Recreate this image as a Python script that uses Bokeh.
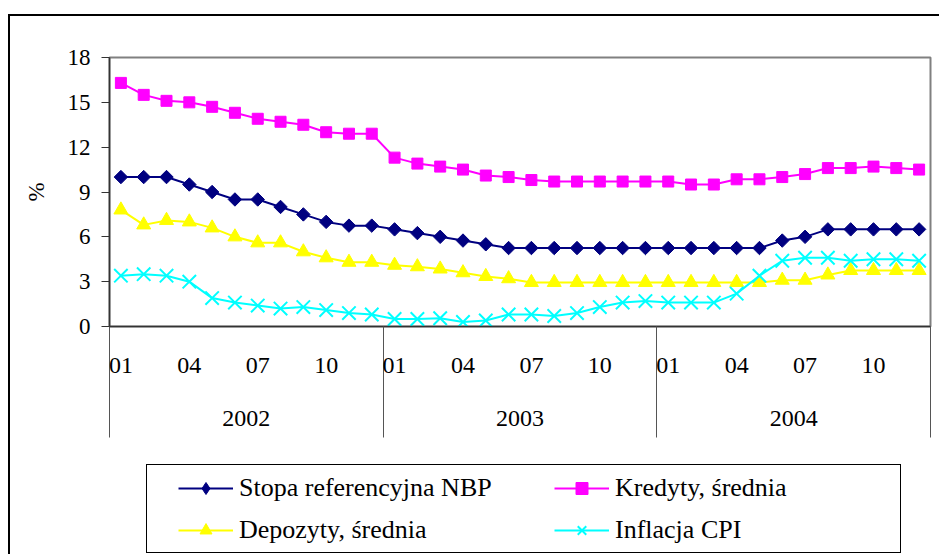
import numpy as np
from bokeh.plotting import figure
from bokeh.layouts import column
from bokeh.models import FixedTicker, LinearAxis, Range1d, Legend, LegendItem
from bokeh.embed import file_html
from bokeh.resources import INLINE

# ---- data ----
years = ["2002", "2003", "2004"]
months = ["01", "02", "03", "04", "05", "06", "07", "08", "09", "10", "11", "12"]
month_labels_shown = ["01", "04", "07", "10"]

stopa_nbp = [10.0, 10.0, 10.0, 9.5, 9.0, 8.5, 8.5, 8.0, 7.5, 7.0, 6.75, 6.75,
             6.5, 6.25, 6.0, 5.75, 5.5, 5.25, 5.25, 5.25, 5.25, 5.25, 5.25, 5.25,
             5.25, 5.25, 5.25, 5.25, 5.25, 5.75, 6.0, 6.5, 6.5, 6.5, 6.5, 6.5]
kredyty = [16.3, 15.5, 15.1, 15.0, 14.7, 14.3, 13.9, 13.7, 13.5, 13.0, 12.9, 12.9,
           11.3, 10.9, 10.7, 10.5, 10.1, 10.0, 9.8, 9.7, 9.7, 9.7, 9.7, 9.7,
           9.7, 9.5, 9.5, 9.85, 9.85, 10.0, 10.2, 10.6, 10.6, 10.7, 10.6, 10.5]
depozyty = [7.8, 6.8, 7.1, 7.0, 6.6, 6.0, 5.6, 5.6, 5.0, 4.6, 4.3, 4.3,
            4.1, 4.0, 3.85, 3.6, 3.35, 3.2, 2.95, 2.95, 2.95, 2.95, 2.95, 2.95,
            2.95, 2.95, 2.95, 2.95, 2.95, 3.1, 3.1, 3.45, 3.75, 3.75, 3.75, 3.75]
inflacja_cpi = [3.4, 3.5, 3.4, 3.0, 1.9, 1.6, 1.4, 1.2, 1.3, 1.1, 0.9, 0.8,
                0.5, 0.5, 0.55, 0.3, 0.4, 0.8, 0.8, 0.7, 0.9, 1.3, 1.6, 1.7,
                1.6, 1.6, 1.6, 2.2, 3.4, 4.4, 4.6, 4.6, 4.4, 4.5, 4.5, 4.4]
y_ticks = [0, 3, 6, 9, 12, 15, 18]

series_names = ["Stopa referencyjna NBP", "Kredyty, średnia",
                "Depozyty, średnia", "Inflacja CPI"]

# ---- positions derived from categories ----
n = len(years) * len(months)
xs = np.arange(n) + 0.5
month_tick_pos = [i + 0.5 for i in range(n) if months[i % 12] in month_labels_shown]
month_overrides = {p: months[int(p) % 12] for p in month_tick_pos}
year_pos = [12 * k + 6 for k in range(len(years))]
year_overrides = {p: years[k] for k, p in enumerate(year_pos)}
year_bounds = [12 * k for k in range(len(years) + 1)]

FONT = "Liberation Serif"

p = figure(width=939, height=464, output_backend="svg", toolbar_location=None,
           x_range=Range1d(0, n), y_range=Range1d(0, 18),
           x_axis_type=None, y_axis_type=None,
           min_border_left=109, min_border_right=9, min_border_top=57,
           min_border_bottom=138)
p.background_fill_color = "white"
p.border_fill_color = "white"
p.outline_line_color = "#808080"
p.outline_line_width = 2

# y axis
yax = LinearAxis(ticker=FixedTicker(ticks=y_ticks), axis_label="%")
yax.axis_line_color = "#333333"
yax.axis_line_width = 1.5
yax.major_tick_out = 8
yax.major_tick_in = 0
yax.major_tick_line_color = "#333333"
yax.minor_tick_line_color = None
yax.major_label_text_font = FONT
yax.major_label_text_font_size = "23px"
yax.major_label_text_color = "black"
yax.major_label_standoff = 11
yax.axis_label_text_font = FONT
yax.axis_label_text_font_size = "23px"
yax.axis_label_text_font_style = "normal"
yax.axis_label_text_color = "black"
yax.axis_label_standoff = 16
p.add_layout(yax, "left")

# month axis (year separators drawn as long minor ticks)
max_ = LinearAxis(ticker=FixedTicker(ticks=month_tick_pos, minor_ticks=year_bounds),
                  major_label_overrides=month_overrides)
max_.axis_line_color = "#333333"
max_.axis_line_width = 1.5
max_.major_tick_line_color = None
max_.major_tick_out = 0
max_.major_tick_in = 0
max_.minor_tick_line_color = "#555555"
max_.minor_tick_line_width = 1
max_.minor_tick_out = 111
max_.minor_tick_in = 0
max_.major_label_text_font = FONT
max_.major_label_text_font_size = "24px"
max_.major_label_text_color = "black"
max_.major_label_standoff = -80
p.add_layout(max_, "below")

# year axis
yrax = LinearAxis(ticker=FixedTicker(ticks=year_pos, minor_ticks=[]),
                  major_label_overrides=year_overrides)
yrax.axis_line_color = None
yrax.major_tick_line_color = None
yrax.minor_tick_line_color = None
yrax.major_tick_out = 0
yrax.major_label_text_font = FONT
yrax.major_label_text_font_size = "24px"
yrax.major_label_text_color = "black"
yrax.major_label_standoff = 35
p.add_layout(yrax, "below")

p.ygrid.ticker = FixedTicker(ticks=y_ticks)
p.ygrid.grid_line_color = "#b0b0b0"
p.ygrid.grid_line_width = 1
p.xgrid.visible = False

styles = [
    (stopa_nbp, "#000080", dict(marker="square", angle=np.pi / 4, size=9.5)),
    (kredyty, "#FF00FF", dict(marker="square", size=11)),
    (depozyty, "#FFFF00", dict(marker="triangle", size=14)),
    (inflacja_cpi, "#00FFFF", dict(marker="x", size=19, line_width=2)),
]
legend_marks = [
    dict(marker="diamond", size=14),
    dict(marker="square", size=11),
    dict(marker="triangle", size=14),
    dict(marker="x", size=19, line_width=2),
]
for vals, col, mk in styles:
    p.line(xs, vals, line_color=col, line_width=2)
    p.scatter(xs, vals, fill_color=col, line_color=col, **mk)

# ---- legend panel: same frame columns as the chart; its data lie outside its ranges ----
lg = figure(width=939, height=90, output_backend="svg", toolbar_location=None,
            x_range=Range1d(-2, -1), y_range=Range1d(-2, -1),
            x_axis_type=None, y_axis_type=None,
            min_border_left=109, min_border_right=9, min_border_top=0,
            min_border_bottom=0)
lg.xgrid.visible = False
lg.ygrid.visible = False
lg.background_fill_color = "white"
lg.border_fill_color = "white"
lg.outline_line_color = None

leg_items = {}
for name, (vals, col, _), mk in zip(series_names, styles, legend_marks):
    ln = lg.line(xs, vals, line_color=col, line_width=2)
    sc = lg.scatter(xs, vals, fill_color=col, line_color=col, **mk)
    leg_items[name] = LegendItem(label=name, renderers=[ln, sc])

# legend fills column by column: column 1 = entries 1 and 3, column 2 = entries 2 and 4
order = [series_names[0], series_names[2], series_names[1], series_names[3]]
legend = Legend(items=[leg_items[k] for k in order], ncols=2, location=(69, 9))
legend.border_line_color = None
legend.background_fill_alpha = 0
legend.padding = 0
legend.margin = 0
legend.spacing = 12
legend.glyph_width = 55
legend.glyph_height = 30
legend.label_height = 30
legend.label_width = 303
legend.label_standoff = 6
legend.label_text_font = FONT
legend.label_text_font_size = "26px"
legend.label_text_color = "black"
lg.add_layout(legend, "center")

layout = column(p, lg, spacing=0)
# outer chart frame and legend box (decoration only)
layout.stylesheets = ["""
:host::before { content: ""; position: absolute; left: 8px; top: 14px; right: 0; bottom: 0;
  border-left: 2px solid #000; border-top: 2px solid #000; pointer-events: none; z-index: 5; }
:host::after { content: ""; position: absolute; left: 146px; top: 464px; width: 755px; height: 89px;
  box-sizing: border-box; border: 1px solid #000; pointer-events: none; z-index: 5; }
"""]

open("out.html", "w").write(file_html(layout, INLINE))
